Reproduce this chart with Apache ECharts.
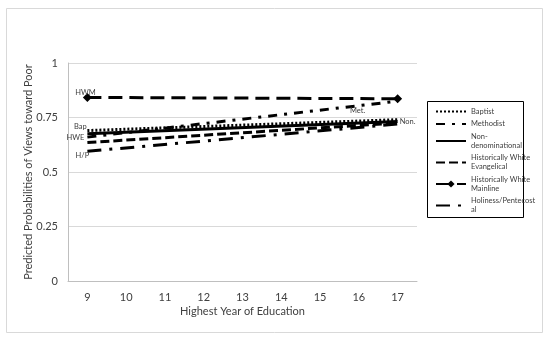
<!DOCTYPE html>
<html><head><meta charset="utf-8">
<script src="https://cdn.jsdelivr.net/npm/echarts@6/dist/echarts.min.js"></script>
<style>html,body{margin:0;padding:0;background:#fff}#c{width:550px;height:339px}</style>
</head><body><div id="c"></div>
<script>
var years = ['9','10','11','12','13','14','15','16','17'];
var yTicks = [0, 0.25, 0.5, 0.75, 1];
var seriesNames = ['Baptist','Methodist','Non-denominational','Historically White Evangelical','Historically White Mainline','Holiness/Pentecostal'];
var legendLabels = ['Baptist','Methodist','Non-\ndenominational','Historically White\nEvangelical','Historically White\nMainline','Holiness/Pentecost\nal'];
// predicted probabilities at education 9 and 17 (straight lines between)
var baptist   = [0.69, null, null, null, null, null, null, null, 0.74];
var methodist = [0.66, null, null, null, null, null, null, null, 0.825];
var nonDenom  = [0.675, null, null, null, null, null, null, null, 0.732];
var hwe       = [0.635, null, null, null, null, null, null, null, 0.725];
var hwm       = [0.842, null, null, null, null, null, null, null, 0.836];
var holiness  = [0.595, null, null, null, null, null, null, null, 0.72];
var lineLabels = ['Bap', 'Met.', 'Non.', 'HWE', 'HWM', 'H/P'];

var font = 'Lato, "Open Sans", sans-serif';
var labelStyle = {fontSize: 7.5, color: '#404040', fontFamily: font};

function mk(vals, labelIdx, text, offset) {
  return vals.map(function (v, i) {
    if (i === labelIdx) {
      return {value: v, label: Object.assign({show: true, formatter: text, position: 'inside', offset: offset}, labelStyle)};
    }
    return v;
  });
}

var styles = [
  {type: [2, 2], width: 3},
  {type: [9, 7, 3, 7], width: 3},
  {type: 'solid', width: 3},
  {type: [9, 4], width: 3},
  {type: [14, 7], width: 3},
  {type: [14, 8, 3, 8], width: 3}
];
var datas = [
  mk(baptist, 0, lineLabels[0], [-7, -4]),
  mk(methodist, 8, lineLabels[1], [-40, 9]),
  mk(nonDenom, 8, lineLabels[2], [10, 0]),
  mk(hwe, 0, lineLabels[3], [-12, -5]),
  mk(hwm, 0, lineLabels[4], [-2, -5]),
  mk(holiness, 0, lineLabels[5], [-5, 4])
];

var series = seriesNames.map(function (n, i) {
  var isM = i === 4;
  return {
    name: n, type: 'line', data: datas[i], connectNulls: true,
    symbol: isM ? 'diamond' : 'circle', symbolSize: isM ? 9 : 0.01, showSymbol: true,
    itemStyle: {color: '#000'},
    lineStyle: {color: '#000', width: styles[i].width, type: styles[i].type, cap: 'butt'},
    emphasis: {disabled: true}, silent: true, animation: false, z: 3
  };
});

var legendData = seriesNames.map(function (n, i) {
  return {name: n, itemStyle: {opacity: i === 4 ? 1 : 0}};
});

var chart = echarts.init(document.getElementById('c'), null, {renderer: 'canvas'});
chart.setOption({
  animation: false,
  backgroundColor: '#fff',
  graphic: [{type: 'rect', shape: {x: 6.5, y: 8.5, width: 536, height: 324}, style: {fill: 'none', stroke: '#d9d9d9', lineWidth: 1}, z: -1},
            {type: 'rect', shape: {x: 427.5, y: 101.5, width: 96, height: 116}, style: {fill: 'none', stroke: '#000', lineWidth: 1}, z: -1}],
  grid: {left: 68, right: 133, top: 63, bottom: 58},
  legend: {
    orient: 'vertical', left: 430, top: 102, itemWidth: 30, itemHeight: 9, itemGap: 3.5,
    formatter: function (n) { return legendLabels[seriesNames.indexOf(n)]; },
    textStyle: {fontSize: 7.5, lineHeight: 9, color: '#404040', fontFamily: font},
    data: legendData
  },
  xAxis: {
    type: 'category', data: years, boundaryGap: true,
    name: 'Highest Year of Education', nameLocation: 'middle', nameGap: 25, nameMoveOverlap: false,
    nameTextStyle: {fontSize: 11, color: '#404040', fontFamily: font},
    axisLine: {lineStyle: {color: '#bfbfbf'}}, axisTick: {show: false},
    axisLabel: {fontSize: 11, color: '#404040', fontFamily: font, margin: 11}
  },
  yAxis: {
    type: 'value', min: 0, max: 1, interval: 0.25,
    name: 'Predicted Probabilities of Views toward Poor', nameLocation: 'middle', nameGap: 34, nameMoveOverlap: false,
    nameTextStyle: {fontSize: 11, color: '#404040', fontFamily: font},
    axisLine: {show: true, lineStyle: {color: '#bfbfbf'}}, axisTick: {show: false},
    splitLine: {lineStyle: {color: '#d9d9d9'}},
    axisLabel: {fontSize: 11, color: '#404040', fontFamily: font, margin: 10,
      formatter: function (v) { return String(yTicks[yTicks.indexOf(v)]); }}
  },
  series: series
});
</script></body></html>
